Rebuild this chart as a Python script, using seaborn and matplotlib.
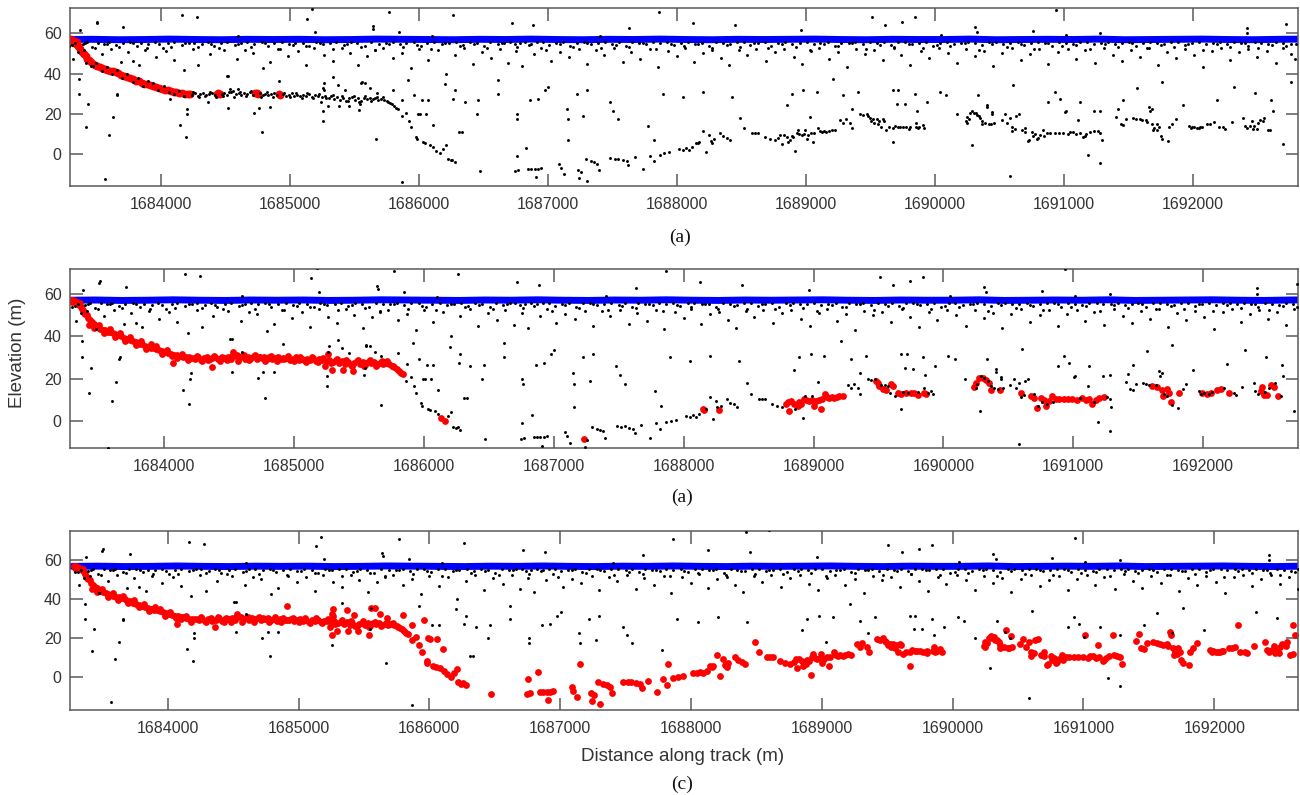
import matplotlib
matplotlib.use("Agg")
import matplotlib.pyplot as plt
from matplotlib.ticker import FuncFormatter, FixedLocator
import seaborn as sns

# ---------------------------------------------------------------------------
# Water-surface returns (m along track, elevation m)
# ---------------------------------------------------------------------------
SURFACE_X = [1683270, 1683470, 1683670, 1683870, 1684070, 1684270, 1684470, 1684670, 1684870, 1685070,
             1685270, 1685470, 1685670, 1685870, 1686070, 1686270, 1686470, 1686670, 1686870, 1687070,
             1687270, 1687470, 1687670, 1687870, 1688070, 1688270, 1688470, 1688670, 1688870, 1689070,
             1689270, 1689470, 1689670, 1689870, 1690070, 1690270, 1690470, 1690670, 1690870, 1691070,
             1691270, 1691470, 1691670, 1691870, 1692070, 1692270, 1692470, 1692670, 1692870]
SURFACE_Y = [56.9, 57.0, 56.8, 56.9, 57.1, 56.9, 56.8, 57.0, 56.9, 57.0,
             56.8, 56.9, 57.1, 57.0, 56.9, 56.8, 57.0, 56.9, 57.1, 56.9,
             56.8, 57.0, 56.9, 57.1, 56.9, 56.8, 57.0, 56.9, 57.0, 57.1,
             56.9, 56.8, 57.0, 56.9, 56.9, 57.1, 56.8, 56.9, 57.0, 56.9,
             57.1, 56.8, 56.9, 57.0, 57.1, 56.9, 56.8, 57.0, 57.1]

# ---------------------------------------------------------------------------
# Bottom photons, grouped by how many detectors accept them
# ---------------------------------------------------------------------------
# accepted by all three methods
STRONG_X = [1683282, 1683292, 1683300, 1683310, 1683318, 1683326, 1683334, 1683342, 1683350, 1683358,
            1683366, 1683374, 1683382, 1683392, 1683404, 1683416, 1683430, 1683444, 1683458, 1683474,
            1683490, 1683508, 1683526, 1683545, 1683565, 1683585, 1683605, 1683625, 1683648, 1683670,
            1683692, 1683715, 1683738, 1683760, 1683782, 1683805, 1683828, 1683850, 1683872, 1683895,
            1683918, 1683940, 1683962, 1683985, 1684008, 1684030, 1684052, 1684075, 1684098, 1684120,
            1684142, 1684165, 1684188, 1684210, 1684228, 1684435, 1684445, 1684455, 1684730, 1684741,
            1684752, 1684915, 1684925]
STRONG_Y = [56.9, 56.2, 57.0, 56.4, 55.7, 56.3, 55.4, 54.8, 55.6, 53.9,
            53.0, 52.2, 51.0, 50.3, 49.8, 48.6, 47.4, 46.5, 45.9, 44.8,
            44.2, 43.6, 43.0, 42.8, 42.1, 41.9, 41.3, 41.0, 40.7, 40.2,
            39.3, 38.9, 38.3, 37.6, 37.2, 36.5, 36.1, 35.4, 34.8, 34.6,
            34.3, 34.0, 33.4, 32.9, 32.5, 32.0, 31.6, 31.3, 31.0, 30.7,
            30.4, 30.1, 30.0, 29.8, 29.9, 29.9, 30.3, 29.7, 30.4, 30.1,
            29.8, 29.6, 29.4]

# accepted by methods (b) and (c)
MID_X = [1684240, 1684262, 1684284, 1684306, 1684328, 1684350, 1684365, 1684372, 1684394, 1684416,
         1684470, 1684492, 1684514, 1684532, 1684540, 1684558, 1684580, 1684602, 1684624, 1684646,
         1684668, 1684690, 1684712, 1684765, 1684788, 1684810, 1684832, 1684855, 1684878, 1684900,
         1684945, 1684968, 1684990, 1685012, 1685035, 1685058, 1685080, 1685102, 1685125, 1685148,
         1685170, 1685192, 1685215, 1685237, 1685245, 1685262, 1685270, 1685292, 1685300, 1685322,
         1685345, 1685368, 1685380, 1685390, 1685412, 1685435, 1685455, 1685460, 1685482, 1685505,
         1685528, 1685550, 1685572, 1685595, 1685618, 1685640, 1685662, 1685685, 1685708, 1685730,
         1685752, 1685772, 1685790, 1685808, 1685825, 1685840,
         1684251, 1684295, 1684339, 1684383, 1684427, 1684481, 1684525, 1684569, 1684613, 1684657,
         1684701, 1684776, 1684821, 1684866, 1684956, 1685001, 1685046, 1685091, 1685136, 1685181,
         1685226, 1685281, 1685333, 1685401, 1685447, 1685493, 1685539, 1685584, 1685629, 1685674,
         1685719, 1685762,
         1683420, 1683460, 1683500, 1683540, 1683580, 1683620, 1683660, 1683700, 1683740, 1683780,
         1683820, 1683860, 1683900, 1683940, 1683980, 1684020, 1684060, 1684070, 1684100, 1684140,
         1684180,
         1686134, 1686165, 1687236, 1688146, 1688160, 1688275,
         1688787, 1688800, 1688813, 1688826, 1688852, 1688877, 1688890, 1688903, 1688928, 1688945,
         1688967, 1688985, 1689005, 1689018, 1689040, 1689057, 1689064, 1689090, 1689105, 1689121,
         1689140, 1689159, 1689180, 1689198, 1689224,
         1689480, 1689493, 1689506, 1689531, 1689557, 1689596, 1689608,
         1689647, 1689672, 1689711, 1689749, 1689775, 1689801, 1689852, 1689865,
         1690237, 1690249, 1690275, 1690301, 1690326, 1690352, 1690365, 1690434, 1690596,
         1690672, 1690698, 1690724, 1690749, 1690775, 1690788, 1690813, 1690834, 1690865, 1690890,
         1690929, 1690960, 1690993, 1691031, 1691070, 1691096, 1691121, 1691147, 1691172, 1691198, 1691236,
         1691608, 1691647, 1691685, 1691690, 1691724, 1691736, 1691749, 1691813,
         1691993, 1692031, 1692057, 1692109, 1692134, 1692198,
         1692442, 1692455, 1692467, 1692493, 1692519, 1692545, 1692578]
MID_Y = [29.4, 30.1, 29.0, 29.8, 30.3, 29.2, 25.6, 29.6, 30.2, 29.1,
         29.7, 30.4, 29.3, 32.5, 30.8, 31.2, 29.9, 30.5, 29.4, 30.2,
         29.8, 30.6, 29.5, 30.2, 29.4, 30.0, 29.1, 29.8, 30.3, 29.2,
         29.7, 28.9, 29.5, 30.1, 28.8, 29.4, 28.6, 29.3, 28.9, 29.6,
         28.4, 29.1, 28.7, 25.8, 28.2, 31.6, 28.9, 24.0, 27.9, 28.6,
         27.4, 28.2, 23.9, 26.8, 27.9, 26.5, 23.8, 27.6, 28.1, 26.9,
         27.7, 26.4, 27.9, 27.2, 28.0, 27.1, 27.6, 26.8, 27.4, 26.9,
         26.2, 25.4, 24.6, 23.6, 22.8, 22.2,
         30.8, 28.3, 28.7, 30.9, 28.4, 28.6, 30.7, 28.5, 31.0, 28.6,
         31.2, 28.5, 30.8, 28.3, 30.5, 28.2, 30.3, 27.9, 30.2, 27.8,
         29.9, 27.6, 29.4, 28.7, 26.1, 28.9, 26.0, 28.6, 26.2, 28.5,
         28.1, 25.9,
         45.2, 43.8, 45.4, 41.4, 43.2, 39.6, 41.7, 37.9, 39.8, 35.9,
         37.6, 33.9, 36.2, 35.3, 31.6, 33.6, 30.6, 27.3, 29.8, 31.5,
         28.6,
         1.5, 0.3, -8.1, 5.6, 5.3, 5.2,
         8.0, 9.2, 4.8, 9.3, 8.2, 7.0, 9.0, 8.2, 10.4, 9.8,
         9.3, 10.1, 7.3, 9.3, 10.2, 5.8, 10.4, 13.0, 11.5, 10.9,
         11.6, 10.9, 11.4, 12.1, 11.7,
         18.7, 17.9, 16.6, 15.4, 14.8, 17.3, 16.6,
         13.2, 12.9, 13.5, 13.5, 13.2, 12.5, 13.5, 12.9,
         16.3, 18.2, 20.2, 20.2, 19.2, 17.9, 14.8, 14.8, 13.2,
         11.7, 10.9, 6.2, 10.9, 10.1, 7.3, 9.3, 11.7, 10.4, 10.4,
         10.4, 10.6, 10.4, 10.1, 10.9, 9.8, 10.4, 8.2, 10.1, 10.9, 11.4,
         16.7, 16.0, 14.8, 11.7, 15.1, 13.2, 8.9, 13.2,
         13.5, 12.9, 13.5, 14.8, 15.1, 13.2,
         14.0, 16.3, 12.5, 12.5, 17.1, 16.3, 11.7]

# accepted by method (c) only
WEAK_X = [1684914, 1685266, 1685253, 1685258, 1685373, 1685427, 1685539, 1685554, 1685584, 1685623,
          1685673, 1685801, 1685870, 1685865, 1685898, 1685920, 1685941, 1685959, 1685979, 1685985,
          1685992, 1686005, 1686030, 1686050, 1686056, 1686085, 1686107, 1686110, 1686185, 1686209,
          1686222, 1686245, 1686260, 1686280, 1686474, 1686744, 1686757, 1686770, 1686833, 1686846,
          1686872, 1686897, 1686910, 1686923, 1686948, 1687088, 1687100, 1687125, 1687152, 1687241,
          1687255, 1687292, 1687304, 1687330, 1687355, 1687381, 1687394, 1687483, 1687520, 1687545,
          1687580, 1687610, 1687623, 1687674, 1687738, 1687789, 1687819, 1687824, 1687865, 1687900,
          1687941, 1688018, 1688045, 1688070, 1688095, 1688120, 1688171, 1688201, 1688222, 1688247,
          1688260, 1688285, 1688336, 1688360, 1688390, 1688413, 1688489, 1688522, 1688578, 1688605,
          1688629, 1688680, 1688720, 1688757, 1688860, 1688915, 1688935, 1688990, 1689266, 1689290,
          1689310, 1689343, 1689357, 1689420, 1689445, 1689470, 1689522, 1689548, 1689570, 1689585,
          1689624, 1689675, 1689690, 1689730, 1689803, 1689854, 1689880, 1689905, 1689917, 1690248,
          1690260, 1690290, 1690315, 1690340, 1690363, 1690390, 1690406, 1690420, 1690445, 1690455,
          1690516, 1690540, 1690560, 1690580, 1690600, 1690620, 1690630, 1690650, 1690700, 1690730,
          1690760, 1690800, 1690847, 1691013, 1691050, 1691110, 1691160, 1691229, 1691260, 1691280,
          1691293, 1691403, 1691421, 1691440, 1691460, 1691484, 1691535, 1691560, 1691586, 1691637,
          1691660, 1691670, 1691700, 1691718, 1691760, 1691808, 1691841, 1691866, 1691968, 1691985,
          1692010, 1692045, 1692070, 1692160, 1692185, 1692236, 1692250, 1692300, 1692389, 1692400,
          1692420, 1692475, 1692503, 1692554, 1692600, 1692605, 1692618]
WEAK_Y = [36.4, 35.2, 21.5, 32.6, 34.3, 32.0, 21.8, 35.5, 35.5, 32.6,
          30.5, 32.0, 27.0, 18.9, 20.6, 16.5, 13.2, 29.2, 8.6, 7.4,
          20.1, 19.8, 6.0, 5.2, 19.8, 4.6, 14.6, 3.5, 2.4, 4.3,
          -2.5, -3.2, -2.9, -4.0, -8.3, -8.5, -0.8, -8.0, 3.0, -7.3,
          -7.6, -7.3, -11.4, -7.5, -7.0, -5.0, -7.0, -10.2, 6.7, -12.0,
          -8.8, -2.5, -13.7, -3.6, -4.0, -4.8, -8.0, -2.2, -2.6, -2.4,
          -3.0, -3.4, -5.6, -1.7, -7.7, -0.8, -3.7, 7.0, -0.4, 0.3,
          0.8, 2.4, 2.0, 2.8, 2.2, 3.4, 6.0, 11.5, 0.9, 9.5,
          6.5, 7.2, 10.3, 8.8, 8.0, 6.9, 18.0, 12.9, 10.3, 10.5,
          10.3, 8.3, 7.4, 6.9, 6.0, 1.4, 12.0, 11.8, 17.0, 15.5,
          17.5, 15.5, 13.0, 19.8, 19.2, 20.0, 17.2, 17.2, 16.5, 13.2,
          12.0, 6.0, 13.8, 13.5, 13.6, 15.5, 13.5, 14.4, 12.9, 15.5,
          17.5, 21.2, 20.5, 19.0, 16.6, 15.5, 24.5, 15.0, 21.0, 15.5,
          17.0, 19.8, 15.5, 18.0, 11.2, 12.5, 19.0, 19.8, 13.0, 7.0,
          9.0, 8.0, 9.0, 21.5, 10.8, 16.7, 9.0, 21.5, 11.2, 10.6,
          6.9, 18.4, 22.3, 15.0, 14.6, 17.6, 18.0, 17.4, 17.2, 17.0,
          23.5, 21.5, 13.0, 12.0, 7.5, 6.4, 15.0, 17.5, 14.0, 12.9,
          13.2, 12.8, 13.6, 15.8, 27.0, 13.2, 12.5, 16.0, 18.0, 14.0,
          13.0, 13.8, 15.5, 18.0, 12.0, 26.6, 21.5]

# ---------------------------------------------------------------------------
# Background (solar) noise photons
# ---------------------------------------------------------------------------
NOISE_NEAR_X = [1683290, 1683335, 1683392, 1683430, 1683468, 1683515, 1683562, 1683598, 1683655, 1683702,
                1683760, 1683811, 1683846, 1683903, 1683955, 1684012, 1684058, 1684101, 1684160, 1684214,
                1684255, 1684318, 1684362, 1684410, 1684467, 1684512, 1684574, 1684620, 1684668, 1684725,
                1684780, 1684826, 1684880, 1684935, 1684990, 1685042, 1685101, 1685150, 1685203, 1685255,
                1685312, 1685360, 1685418, 1685470, 1685521, 1685579, 1685630, 1685688, 1685742, 1685795,
                1685850, 1685902, 1685960, 1686015, 1686064, 1686120, 1686178, 1686230, 1686285, 1686340,
                1686392, 1686450, 1686505, 1686553, 1686610, 1686662, 1686705, 1686742, 1686780, 1686825,
                1686872, 1686918, 1686960, 1687010, 1687062, 1687115, 1687170, 1687222, 1687280, 1687335,
                1687390, 1687442, 1687500, 1687552, 1687605, 1687650, 1687702, 1687760, 1687812, 1687866,
                1687920, 1687975, 1688030, 1688082, 1688140, 1688192, 1688250, 1688302, 1688355, 1688410,
                1688465, 1688518, 1688570, 1688625, 1688680, 1688732, 1688785, 1688840, 1688892, 1688950,
                1689005, 1689060, 1689112, 1689170, 1689222, 1689275, 1689330, 1689382, 1689440, 1689495,
                1689550, 1689602, 1689660, 1689712, 1689768, 1689820, 1689875, 1689930, 1689982, 1690040,
                1690092, 1690150, 1690203, 1690258, 1690310, 1690365, 1690420, 1690472, 1690530, 1690582,
                1690640, 1690692, 1690745, 1690800, 1690852, 1690908, 1690960, 1691015, 1691070, 1691122,
                1691180, 1691232, 1691290, 1691342, 1691395, 1691450, 1691502, 1691560, 1691612, 1691668,
                1691720, 1691775, 1691830, 1691882, 1691940, 1691992, 1692048, 1692100, 1692155, 1692210,
                1692262, 1692318, 1692370, 1692425, 1692478, 1692530, 1692585, 1692640, 1692695, 1692760]
NOISE_NEAR_Y = [53.8, 55.1, 54.6, 55.6, 53.2, 55.4, 54.9, 55.7, 54.2, 55.3,
                55.6, 53.9, 55.2, 54.8, 55.5, 52.9, 55.1, 55.7, 54.4, 55.3,
                55.4, 54.7, 55.8, 53.6, 55.2, 55.6, 54.1, 55.3, 55.7, 54.9,
                55.5, 53.8, 55.2, 55.7, 54.6, 55.4, 55.1, 53.5, 55.6, 54.8,
                55.3, 55.7, 54.2, 55.5, 55.1, 53.7, 55.6, 54.9, 55.2, 55.7,
                54.6, 55.4, 55.8, 53.9, 55.3, 55.6, 54.7, 55.2, 55.7, 54.4,
                55.5, 55.1, 53.6, 55.7, 54.8, 55.4, 55.6, 54.5, 55.2, 55.7,
                54.9, 55.5, 55.8, 54.3, 55.2, 55.6, 53.8, 55.4, 55.7, 54.6,
                55.3, 55.7, 54.8, 55.5, 53.9, 55.6, 55.2, 54.5, 55.8, 55.1,
                55.6, 54.2, 55.4, 55.7, 54.9, 55.3, 53.7, 55.6, 55.1, 54.6,
                55.5, 55.8, 54.4, 55.2, 55.6, 53.8, 55.4, 55.7, 54.9, 55.3,
                55.6, 54.5, 55.2, 55.7, 53.9, 55.4, 55.1, 55.6, 54.7, 55.5,
                55.2, 55.7, 54.3, 55.5, 55.8, 54.8, 55.3, 55.6, 53.6, 55.4,
                55.7, 54.6, 55.3, 55.6, 55.1, 54.2, 55.5, 55.8, 54.9, 55.3,
                55.6, 54.4, 55.2, 55.7, 55.4, 53.8, 55.6, 55.1, 54.7, 55.5,
                55.8, 54.9, 55.3, 55.6, 54.5, 55.2, 55.7, 53.9, 55.4, 55.6,
                55.1, 54.6, 55.5, 55.8, 54.2, 55.3, 55.6, 54.8, 55.4, 55.7,
                54.9, 55.5, 55.2, 53.7, 55.6, 55.1, 54.6, 55.7, 55.3, 54.8]

NOISE_SUB_X = [1683312, 1683410, 1683492, 1683580, 1683678, 1683785, 1683880, 1683985, 1684080, 1684190,
               1684290, 1684390, 1684490, 1684600, 1684700, 1684805, 1684910, 1685020, 1685125, 1685230,
               1685335, 1685445, 1685550, 1685660, 1685770, 1685875, 1685985, 1686095, 1686205, 1686315,
               1686425, 1686530, 1686640, 1686760, 1686850, 1686985, 1687090, 1687195, 1687305, 1687415,
               1687525, 1687630, 1687735, 1687840, 1687950, 1688055, 1688165, 1688275, 1688385, 1688490,
               1688600, 1688705, 1688815, 1688920, 1689030, 1689140, 1689250, 1689355, 1689465, 1689575,
               1689685, 1689795, 1689905, 1690015, 1690120, 1690230, 1690340, 1690445, 1690555, 1690665,
               1690770, 1690880, 1690985, 1691095, 1691205, 1691315, 1691420, 1691530, 1691640, 1691750,
               1691855, 1691965, 1692075, 1692185, 1692290, 1692400, 1692505, 1692615, 1692720, 1692800]
NOISE_SUB_Y = [54.1, 55.0, 52.6, 54.9, 53.4, 55.2, 51.8, 54.5, 53.1, 55.0,
               53.3, 54.8, 51.9, 54.6, 53.0, 55.1, 52.4, 54.3, 53.6, 55.0,
               52.2, 54.7, 53.3, 51.5, 54.9, 53.0, 54.4, 52.1, 55.0, 53.5,
               54.6, 52.7, 55.1, 53.2, 54.3, 51.7, 54.8, 53.4, 55.0, 52.5,
               54.2, 53.1, 55.1, 52.0, 54.5, 53.6, 54.9, 51.6, 54.3, 53.0,
               55.0, 52.8, 54.6, 53.3, 51.9, 54.8, 53.5, 55.0, 52.3, 54.4,
               53.1, 54.9, 52.6, 54.2, 53.7, 55.1, 51.8, 54.5, 53.2, 54.8,
               52.4, 55.0, 53.6, 54.1, 52.0, 54.7, 53.3, 55.0, 52.7, 54.4,
               53.0, 54.9, 51.7, 54.6, 53.4, 55.1, 52.5, 54.2, 53.8, 54.8]

NOISE_MID_X = [1683318, 1683405, 1683476, 1683540, 1683612, 1683690, 1683745, 1683832, 1683889, 1683960,
               1684040, 1684098, 1684180, 1684250, 1684290, 1684377, 1684452, 1684520, 1684590, 1684655,
               1684712, 1684790, 1684845, 1684920, 1684986, 1685060, 1685122, 1685190, 1685262, 1685330,
               1685402, 1685465, 1685530, 1685600, 1685660, 1685725, 1685800, 1685870, 1685938, 1686000,
               1686072, 1686145, 1686210, 1686280, 1686352, 1686420, 1686490, 1686560, 1686628, 1686690,
               1686752, 1686800, 1686890, 1686945, 1687020, 1687090, 1687160, 1687240, 1687300, 1687372,
               1687432, 1687510, 1687580, 1687640, 1687715, 1687790, 1687850, 1687930, 1688000, 1688060,
               1688130, 1688200, 1688268, 1688340, 1688400, 1688480, 1688545, 1688610, 1688690, 1688760,
               1688830, 1688905, 1688970, 1689040, 1689100, 1689180, 1689250, 1689320, 1689390, 1689460,
               1689530, 1689600, 1689680, 1689740, 1689810, 1689890, 1689950, 1690030, 1690100, 1690170,
               1690240, 1690310, 1690380, 1690450, 1690520, 1690600, 1690670, 1690740, 1690810, 1690880,
               1690950, 1691030, 1691090, 1691160, 1691240, 1691310, 1691380, 1691450, 1691520, 1691590,
               1691660, 1691730, 1691800, 1691870, 1691940, 1692010, 1692080, 1692150, 1692220, 1692290,
               1692360, 1692430, 1692500, 1692570, 1692640, 1692700, 1692760, 1692790, 1683360, 1683780]
NOISE_MID_Y = [47.2, 51.8, 43.5, 49.6, 52.4, 45.8, 50.7, 44.1, 52.9, 48.3,
               51.2, 46.7, 41.6, 52.3, 44.2, 49.5, 52.8, 38.6, 47.3, 51.6,
               50.2, 42.5, 45.6, 52.1, 48.7, 51.4, 44.3, 52.6, 49.1, 46.4,
               52.7, 50.0, 44.0, 48.8, 51.9, 52.5, 47.6, 50.3, 42.8, 52.2,
               46.9, 51.5, 40.0, 49.3, 52.6, 44.7, 50.9, 47.8, 52.3, 45.2,
               51.1, 43.9, 49.7, 52.8, 46.3, 50.6, 48.2, 52.0, 44.8, 51.7,
               49.4, 52.5, 45.5, 50.8, 47.1, 52.2, 43.4, 51.3, 48.5, 52.9,
               45.9, 50.4, 52.6, 47.6, 44.0, 51.8, 49.0, 52.3, 46.1, 50.7,
               52.4, 48.1, 44.6, 51.0, 52.7, 47.3, 50.5, 43.1, 52.0, 49.8,
               51.6, 46.5, 52.8, 49.2, 44.4, 51.3, 47.7, 52.5, 50.1, 45.0,
               52.2, 48.6, 51.0, 43.7, 50.3, 52.7, 46.8, 49.9, 52.1, 44.9,
               50.6, 52.4, 47.2, 51.5, 45.3, 52.9, 49.4, 46.0, 51.8, 48.3,
               52.6, 44.1, 50.9, 47.5, 52.0, 49.0, 43.3, 51.4, 52.7, 46.6,
               50.5, 52.3, 48.0, 51.2, 45.4, 52.8, 49.6, 47.0, 50.9, 46.1]

NOISE_LOW_X = [1683364, 1683367, 1683419, 1683437, 1683631, 1683600, 1683566, 1683656, 1683661, 1684147,
               1684194, 1684199, 1684204, 1684509, 1684522, 1684600, 1684724, 1684763, 1684780, 1684845,
               1685254, 1685336, 1685557, 1685543, 1685667, 1685866, 1685917, 1686021, 1686072, 1686202,
               1686267, 1686310, 1686330, 1686280, 1686357, 1686448, 1686460, 1686616, 1686616, 1686758,
               1686760, 1686862, 1686926, 1686978, 1687003, 1687145, 1687153, 1687275, 1687223, 1687300,
               1687481, 1687507, 1687546, 1687779, 1687895, 1688050, 1688205, 1688425, 1688851, 1688890,
               1688980, 1689032, 1689083, 1689213, 1689290, 1689355, 1689406, 1689677, 1689716, 1689703,
               1689768, 1689845, 1689858, 1689936, 1690039, 1690086, 1690168, 1690285, 1690336, 1690401,
               1690440, 1690582, 1690608, 1690879, 1690931, 1690969, 1691008, 1691124, 1691280, 1691189,
               1691280, 1691460, 1691564, 1691680, 1691758, 1691925, 1692700, 1692320, 1692480, 1692760]
NOISE_LOW_Y = [37.5, 30.0, 13.3, 25.0, 18.3, 9.6, -12.5, 29.2, 30.0, 14.6,
               8.3, 20.0, 22.5, 38.6, 23.0, 32.5, 20.3, 23.0, 11.1, 23.3,
               16.6, 38.3, 35.8, 25.0, 7.5, -14.2, 36.6, 26.6, 26.6, 35.0,
               27.5, 10.8, 10.8, 31.6, 25.8, 20.0, 26.6, 30.0, 36.6, 20.0,
               17.5, 26.6, 27.5, 31.6, 33.3, 22.5, 17.5, 19.1, 30.0, 31.6,
               25.8, 21.6, 17.5, 14.1, 30.0, 28.3, 30.8, 28.3, 24.1, 30.0,
               31.6, 18.3, 30.8, 37.5, 29.1, 22.5, 30.8, 31.6, 31.6, 25.0,
               24.6, 30.0, 21.6, 25.8, 30.8, 29.1, 20.0, 4.6, 29.1, 23.3,
               20.0, -10.8, 34.1, 25.8, 30.8, 27.5, 20.8, 25.8, 21.6, -0.3,
               -4.5, 26.6, 33.0, 22.5, 35.8, 24.1, 5.0, 33.5, 30.2, 36.0]

NOISE_HIGH_X = [1683372, 1683501, 1683508, 1683708, 1684160, 1684276, 1685132, 1685173, 1685194, 1685641,
                1685645, 1685770, 1685848, 1686262, 1686719, 1686887, 1687631, 1687864, 1688127, 1688450,
                1688962, 1689509, 1689613, 1689742, 1689843, 1690310, 1690329, 1690758, 1690936, 1691013,
                1691280, 1692416, 1692418, 1692719, 1688420, 1688600, 1687400, 1686100, 1684600, 1690050]
NOISE_HIGH_Y = [61.6, 65.0, 65.8, 63.0, 69.2, 68.3, 67.2, 72.1, 60.8, 63.6,
                62.0, 70.8, 60.8, 69.1, 65.3, 64.1, 62.8, 70.8, 65.3, 64.1,
                61.6, 68.0, 64.1, 65.8, 68.0, 63.3, 60.8, 61.3, 71.6, 59.1,
                60.0, 62.5, 60.0, 64.6, 74.5, 75.5, 58.8, 58.6, 58.7, 58.9]

X_TICKS = [1684000, 1685000, 1686000, 1687000, 1688000, 1689000, 1690000, 1691000, 1692000]
Y_TICKS = [0, 20, 40, 60]

BOTTOM = {
    "strong": (STRONG_X, STRONG_Y),
    "mid": (MID_X, MID_Y),
    "weak": (WEAK_X, WEAK_Y),
}
NOISE_X = NOISE_NEAR_X + NOISE_SUB_X + NOISE_MID_X + NOISE_LOW_X + NOISE_HIGH_X
NOISE_Y = NOISE_NEAR_Y + NOISE_SUB_Y + NOISE_MID_Y + NOISE_LOW_Y + NOISE_HIGH_Y

PANELS = [
    dict(rect=[0.05385, 0.7664, 0.9446, 0.2231], xlim=(1683295, 1692814), ylim=(-15.8, 72.4),
         signal=("strong",), red_size=32, caption="(a)", cap_xy=(0.523, 0.701)),
    dict(rect=[0.05385, 0.4369, 0.9446, 0.2252], xlim=(1683275, 1692730), ylim=(-12.4, 71.75),
         signal=("strong", "mid"), red_size=24, caption="(a)", cap_xy=(0.525, 0.374)),
    dict(rect=[0.05385, 0.1065, 0.9446, 0.2255], xlim=(1683253, 1692640), ylim=(-16.9, 75.0),
         signal=("strong", "mid", "weak"), red_size=24, caption="(c)", cap_xy=(0.525, 0.014)),
]

sns.set_style("ticks")
plt.rcParams["font.family"] = ["Liberation Sans", "DejaVu Sans"]

FRAME = "#5a5a5a"
TEXT = "#333333"

fig = plt.figure(figsize=(13, 7.95), dpi=100)

for cfg in PANELS:
    ax = fig.add_axes(cfg["rect"])

    red_x, red_y = [], []
    blk_x, blk_y = list(NOISE_X), list(NOISE_Y)
    for name, (bx, by) in BOTTOM.items():
        if name in cfg["signal"]:
            red_x += bx
            red_y += by
        else:
            blk_x += bx
            blk_y += by

    sns.lineplot(x=SURFACE_X, y=SURFACE_Y, ax=ax, color="#0000ff", linewidth=5.0,
                 sort=False, estimator=None, solid_capstyle="round", zorder=1)
    sns.scatterplot(x=red_x, y=red_y, ax=ax, color="#ff0000", s=cfg["red_size"],
                    linewidth=0, zorder=2)
    sns.scatterplot(x=blk_x, y=blk_y, ax=ax, color="#000000", s=4.5,
                    linewidth=0, zorder=3)

    ax.set_xlim(*cfg["xlim"])
    ax.set_ylim(*cfg["ylim"])
    ax.xaxis.set_major_locator(FixedLocator(X_TICKS))
    ax.yaxis.set_major_locator(FixedLocator(Y_TICKS))
    ax.xaxis.set_major_formatter(FuncFormatter(lambda v, p: f"{v:.0f}"))
    ax.yaxis.set_major_formatter(FuncFormatter(lambda v, p: f"{v:.0f}"))
    ax.tick_params(axis="both", direction="in", length=9, width=1.1, color=FRAME,
                   top=True, right=True, labelsize=11.5, labelcolor=TEXT)
    ax.tick_params(axis="x", pad=8)
    ax.tick_params(axis="y", pad=6)
    for sp in ax.spines.values():
        sp.set_color(FRAME)
        sp.set_linewidth(1.1)
    ax.set_xlabel("")
    ax.set_ylabel("")

    fig.text(cfg["cap_xy"][0], cfg["cap_xy"][1], cfg["caption"], ha="center", va="center",
             fontsize=14, family=["Liberation Serif", "DejaVu Serif"], color="#111111")

fig.text(0.5254, 0.049, "Distance along track (m)", ha="center", va="center",
         fontsize=13.5, color=TEXT)
fig.text(0.0131, 0.556, "Elevation (m)", ha="center", va="center", rotation=90,
         fontsize=13.5, color=TEXT)

fig.savefig("out.png", dpi=100)
